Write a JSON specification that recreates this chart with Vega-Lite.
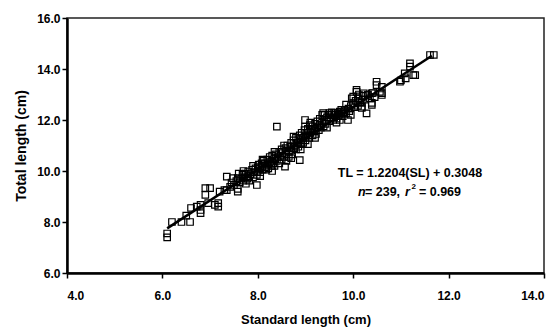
{
  "$schema": "https://vega.github.io/schema/vega-lite/v6.json",
  "width": 477,
  "height": 255,
  "autosize": {"type": "none"},
  "padding": {"left": 67, "top": 18, "right": 13, "bottom": 54},
  "config": {
    "font": "Liberation Sans",
    "view": {"stroke": "#222", "strokeWidth": 1.5},
    "axis": {
      "grid": false,
      "domainColor": "#000",
      "domainWidth": 2.5,
      "tickColor": "#000",
      "tickWidth": 1.5,
      "tickSize": 5,
      "labelFont": "Liberation Sans",
      "labelFontWeight": "bold",
      "labelFontSize": 12,
      "labelColor": "#000",
      "titleFont": "Liberation Sans",
      "titleFontWeight": "bold",
      "titleColor": "#000"
    }
  },
  "datasets": {
    "pts": [
      {"SL": 6.10, "TL": 7.40}, {"SL": 6.10, "TL": 7.55}, {"SL": 6.20, "TL": 8.00}, {"SL": 6.40, "TL": 8.00},
      {"SL": 6.50, "TL": 8.25}, {"SL": 6.58, "TL": 8.00}, {"SL": 6.60, "TL": 8.55}, {"SL": 6.72, "TL": 8.60},
      {"SL": 6.80, "TL": 8.67}, {"SL": 6.80, "TL": 8.47}, {"SL": 6.80, "TL": 8.35}, {"SL": 6.90, "TL": 9.33},
      {"SL": 7.00, "TL": 9.33}, {"SL": 6.90, "TL": 9.06}, {"SL": 6.96, "TL": 8.74}, {"SL": 7.10, "TL": 8.67},
      {"SL": 7.17, "TL": 8.74}, {"SL": 7.17, "TL": 8.60}, {"SL": 7.20, "TL": 9.19}, {"SL": 7.30, "TL": 9.25},
      {"SL": 7.35, "TL": 9.25}, {"SL": 7.42, "TL": 9.38}, {"SL": 7.35, "TL": 9.78}, {"SL": 7.48, "TL": 9.72},
      {"SL": 7.58, "TL": 9.72}, {"SL": 7.58, "TL": 9.19}, {"SL": 7.58, "TL": 9.30}, {"SL": 7.45, "TL": 9.55},
      {"SL": 7.50, "TL": 9.45}, {"SL": 7.55, "TL": 9.60}, {"SL": 7.62, "TL": 9.55}, {"SL": 7.65, "TL": 9.70},
      {"SL": 7.68, "TL": 9.85}, {"SL": 7.70, "TL": 9.62}, {"SL": 7.72, "TL": 9.75}, {"SL": 7.75, "TL": 9.90},
      {"SL": 7.78, "TL": 9.70}, {"SL": 7.80, "TL": 9.80}, {"SL": 7.80, "TL": 9.98}, {"SL": 7.82, "TL": 9.62},
      {"SL": 7.85, "TL": 9.88}, {"SL": 7.88, "TL": 10.05}, {"SL": 7.90, "TL": 9.75}, {"SL": 7.92, "TL": 9.95},
      {"SL": 7.95, "TL": 10.10}, {"SL": 7.98, "TL": 9.45}, {"SL": 7.98, "TL": 9.85}, {"SL": 8.00, "TL": 10.00},
      {"SL": 8.00, "TL": 10.15}, {"SL": 8.02, "TL": 10.25}, {"SL": 8.05, "TL": 9.95}, {"SL": 8.05, "TL": 10.10},
      {"SL": 8.08, "TL": 10.30}, {"SL": 8.10, "TL": 10.05}, {"SL": 8.10, "TL": 10.20}, {"SL": 8.12, "TL": 10.40},
      {"SL": 8.15, "TL": 10.15}, {"SL": 8.15, "TL": 10.30}, {"SL": 8.18, "TL": 10.05}, {"SL": 8.20, "TL": 10.25},
      {"SL": 8.20, "TL": 10.45}, {"SL": 8.22, "TL": 10.10}, {"SL": 8.25, "TL": 10.35}, {"SL": 8.25, "TL": 10.55},
      {"SL": 8.28, "TL": 10.20}, {"SL": 8.30, "TL": 10.40}, {"SL": 8.30, "TL": 10.60}, {"SL": 8.32, "TL": 10.30},
      {"SL": 8.35, "TL": 10.50}, {"SL": 8.35, "TL": 10.20}, {"SL": 8.38, "TL": 10.65}, {"SL": 8.40, "TL": 10.40},
      {"SL": 8.40, "TL": 11.74}, {"SL": 8.42, "TL": 10.55}, {"SL": 8.45, "TL": 10.30}, {"SL": 8.45, "TL": 10.75},
      {"SL": 8.48, "TL": 10.60}, {"SL": 8.50, "TL": 10.45}, {"SL": 8.50, "TL": 10.85}, {"SL": 8.52, "TL": 10.70},
      {"SL": 8.55, "TL": 10.55}, {"SL": 8.57, "TL": 10.17}, {"SL": 8.58, "TL": 10.90}, {"SL": 8.60, "TL": 10.65},
      {"SL": 8.60, "TL": 10.80}, {"SL": 8.62, "TL": 11.00}, {"SL": 8.65, "TL": 10.75}, {"SL": 8.65, "TL": 10.55},
      {"SL": 8.68, "TL": 10.95}, {"SL": 8.70, "TL": 10.80}, {"SL": 8.70, "TL": 11.10}, {"SL": 8.72, "TL": 10.65},
      {"SL": 8.75, "TL": 10.90}, {"SL": 8.75, "TL": 11.20}, {"SL": 8.78, "TL": 11.00}, {"SL": 8.80, "TL": 10.85},
      {"SL": 8.80, "TL": 11.30}, {"SL": 8.82, "TL": 11.10}, {"SL": 8.85, "TL": 10.95}, {"SL": 8.85, "TL": 11.25},
      {"SL": 8.88, "TL": 10.43}, {"SL": 8.88, "TL": 11.40}, {"SL": 8.90, "TL": 11.05}, {"SL": 8.90, "TL": 11.20},
      {"SL": 8.92, "TL": 11.50}, {"SL": 8.95, "TL": 11.30}, {"SL": 8.95, "TL": 11.10}, {"SL": 8.98, "TL": 11.60},
      {"SL": 8.99, "TL": 12.00}, {"SL": 8.99, "TL": 11.74}, {"SL": 9.00, "TL": 11.35}, {"SL": 9.00, "TL": 11.20},
      {"SL": 9.02, "TL": 11.50}, {"SL": 9.05, "TL": 11.40}, {"SL": 9.05, "TL": 11.65}, {"SL": 9.08, "TL": 11.30},
      {"SL": 9.09, "TL": 11.80}, {"SL": 9.10, "TL": 11.49}, {"SL": 9.12, "TL": 11.60}, {"SL": 9.15, "TL": 11.40},
      {"SL": 9.15, "TL": 11.75}, {"SL": 9.18, "TL": 11.55}, {"SL": 9.20, "TL": 11.85}, {"SL": 9.20, "TL": 11.65},
      {"SL": 9.22, "TL": 11.45}, {"SL": 9.25, "TL": 11.72}, {"SL": 9.25, "TL": 11.95}, {"SL": 9.28, "TL": 11.60},
      {"SL": 9.30, "TL": 11.80}, {"SL": 9.30, "TL": 12.05}, {"SL": 9.32, "TL": 11.70}, {"SL": 9.35, "TL": 11.90},
      {"SL": 9.37, "TL": 12.27}, {"SL": 9.38, "TL": 11.75}, {"SL": 9.40, "TL": 12.00}, {"SL": 9.40, "TL": 12.20},
      {"SL": 9.42, "TL": 11.85}, {"SL": 9.45, "TL": 12.10}, {"SL": 9.48, "TL": 12.20}, {"SL": 9.50, "TL": 11.95},
      {"SL": 9.50, "TL": 12.27}, {"SL": 9.52, "TL": 12.10}, {"SL": 9.55, "TL": 12.20}, {"SL": 9.58, "TL": 12.00},
      {"SL": 9.60, "TL": 12.27}, {"SL": 9.60, "TL": 12.10}, {"SL": 9.62, "TL": 12.20}, {"SL": 9.65, "TL": 12.05},
      {"SL": 9.68, "TL": 12.27}, {"SL": 9.68, "TL": 12.15}, {"SL": 9.70, "TL": 12.20}, {"SL": 9.72, "TL": 12.00},
      {"SL": 9.72, "TL": 12.33}, {"SL": 9.75, "TL": 12.25}, {"SL": 9.78, "TL": 12.15}, {"SL": 9.80, "TL": 12.30},
      {"SL": 9.82, "TL": 12.40}, {"SL": 9.85, "TL": 12.25}, {"SL": 9.89, "TL": 12.00}, {"SL": 9.90, "TL": 12.45},
      {"SL": 9.92, "TL": 12.35}, {"SL": 9.95, "TL": 12.55}, {"SL": 9.97, "TL": 12.85}, {"SL": 10.00, "TL": 12.65},
      {"SL": 10.00, "TL": 12.92}, {"SL": 10.02, "TL": 12.50}, {"SL": 10.05, "TL": 12.75}, {"SL": 10.07, "TL": 13.10},
      {"SL": 10.07, "TL": 13.18}, {"SL": 10.10, "TL": 12.85}, {"SL": 10.12, "TL": 13.00}, {"SL": 10.15, "TL": 12.70},
      {"SL": 10.18, "TL": 12.52}, {"SL": 10.18, "TL": 12.67}, {"SL": 10.18, "TL": 12.47}, {"SL": 10.20, "TL": 12.95},
      {"SL": 10.22, "TL": 13.05}, {"SL": 10.25, "TL": 12.80}, {"SL": 10.28, "TL": 12.26}, {"SL": 10.30, "TL": 12.98},
      {"SL": 10.31, "TL": 13.00}, {"SL": 10.35, "TL": 12.85}, {"SL": 10.39, "TL": 12.59}, {"SL": 10.39, "TL": 12.67},
      {"SL": 10.39, "TL": 13.05}, {"SL": 10.41, "TL": 13.06}, {"SL": 10.45, "TL": 12.90}, {"SL": 10.49, "TL": 13.50},
      {"SL": 10.49, "TL": 13.37}, {"SL": 10.56, "TL": 13.10}, {"SL": 10.60, "TL": 13.30}, {"SL": 10.60, "TL": 13.05},
      {"SL": 10.60, "TL": 12.98}, {"SL": 10.98, "TL": 13.50}, {"SL": 11.00, "TL": 13.55}, {"SL": 11.08, "TL": 13.83},
      {"SL": 11.10, "TL": 13.63}, {"SL": 11.19, "TL": 14.22}, {"SL": 11.19, "TL": 14.09}, {"SL": 11.26, "TL": 13.76},
      {"SL": 11.30, "TL": 13.76}, {"SL": 11.61, "TL": 14.55}, {"SL": 11.69, "TL": 14.55},
      {"SL": 7.60, "TL": 9.90}, {"SL": 7.70, "TL": 10.00}, {"SL": 7.75, "TL": 9.50}, {"SL": 7.90, "TL": 10.20},
      {"SL": 8.05, "TL": 9.80}, {"SL": 8.10, "TL": 10.45}, {"SL": 8.30, "TL": 10.00}, {"SL": 8.35, "TL": 10.75},
      {"SL": 8.55, "TL": 11.00}, {"SL": 8.60, "TL": 10.40}, {"SL": 8.70, "TL": 10.50}, {"SL": 8.75, "TL": 11.35},
      {"SL": 8.90, "TL": 10.85}, {"SL": 9.05, "TL": 11.05}, {"SL": 9.10, "TL": 11.90}, {"SL": 9.20, "TL": 11.30},
      {"SL": 9.35, "TL": 12.20}, {"SL": 9.45, "TL": 11.70}, {"SL": 9.55, "TL": 12.30}, {"SL": 9.65, "TL": 11.90},
      {"SL": 9.75, "TL": 12.40}, {"SL": 9.85, "TL": 12.60}, {"SL": 9.95, "TL": 12.20}, {"SL": 10.10, "TL": 12.55}
    ],
    "fit": [{"SL": 6.1, "TL": 7.75}, {"SL": 11.65, "TL": 14.52}]
  },
  "layer": [
    {
      "data": {"name": "fit"},
      "mark": {"type": "line", "color": "#000", "strokeWidth": 2.5},
      "encoding": {
        "x": {"field": "SL", "type": "quantitative", "scale": {"domain": [4, 14], "nice": false, "zero": false},
          "axis": {"values": [4, 6, 8, 10, 12, 14], "format": ".1f", "title": "Standard length (cm)", "titleFontSize": 13, "labelPadding": 12, "titlePadding": 12}},
        "y": {"field": "TL", "type": "quantitative", "scale": {"domain": [6, 16], "nice": false, "zero": false},
          "axis": {"values": [6, 8, 10, 12, 14, 16], "format": ".1f", "title": "Total length (cm)", "titleFontSize": 14, "labelPadding": 2, "titlePadding": 8}}
      }
    },
    {
      "data": {"name": "pts"},
      "mark": {"type": "point", "shape": "square", "filled": false, "color": "#000", "strokeWidth": 1.2, "size": 42, "opacity": 1},
      "encoding": {
        "x": {"field": "SL", "type": "quantitative"},
        "y": {"field": "TL", "type": "quantitative"}
      }
    },
    {
      "data": {"values": [{"SL": 11.19, "TL": 9.94, "t": "TL = 1.2204(SL) + 0.3048"}]},
      "mark": {"type": "text", "align": "center", "baseline": "middle", "fontWeight": "bold", "fontSize": 12.5, "color": "#000"},
      "encoding": {"x": {"field": "SL", "type": "quantitative"}, "y": {"field": "TL", "type": "quantitative"}, "text": {"field": "t"}}
    },
    {
      "data": {"values": [{"SL": 11.19, "TL": 9.18, "t": "n"}]},
      "mark": {"type": "text", "align": "left", "baseline": "middle", "fontWeight": "bold", "fontStyle": "italic", "fontSize": 12.5, "color": "#000", "dx": -52},
      "encoding": {"x": {"field": "SL", "type": "quantitative"}, "y": {"field": "TL", "type": "quantitative"}, "text": {"field": "t"}}
    },
    {
      "data": {"values": [{"SL": 11.19, "TL": 9.18, "t": "= 239,"}]},
      "mark": {"type": "text", "align": "left", "baseline": "middle", "fontWeight": "bold", "fontSize": 12.5, "color": "#000", "dx": -45},
      "encoding": {"x": {"field": "SL", "type": "quantitative"}, "y": {"field": "TL", "type": "quantitative"}, "text": {"field": "t"}}
    },
    {
      "data": {"values": [{"SL": 11.19, "TL": 9.18, "t": "r"}]},
      "mark": {"type": "text", "align": "left", "baseline": "middle", "fontWeight": "bold", "fontStyle": "italic", "fontSize": 12.5, "color": "#000", "dx": -5},
      "encoding": {"x": {"field": "SL", "type": "quantitative"}, "y": {"field": "TL", "type": "quantitative"}, "text": {"field": "t"}}
    },
    {
      "data": {"values": [{"SL": 11.19, "TL": 9.18, "t": "2"}]},
      "mark": {"type": "text", "align": "left", "baseline": "middle", "fontWeight": "bold", "fontSize": 8, "color": "#000", "dx": 1.5, "dy": -5},
      "encoding": {"x": {"field": "SL", "type": "quantitative"}, "y": {"field": "TL", "type": "quantitative"}, "text": {"field": "t"}}
    },
    {
      "data": {"values": [{"SL": 11.19, "TL": 9.18, "t": "= 0.969"}]},
      "mark": {"type": "text", "align": "left", "baseline": "middle", "fontWeight": "bold", "fontSize": 12.5, "color": "#000", "dx": 9},
      "encoding": {"x": {"field": "SL", "type": "quantitative"}, "y": {"field": "TL", "type": "quantitative"}, "text": {"field": "t"}}
    }
  ]
}
